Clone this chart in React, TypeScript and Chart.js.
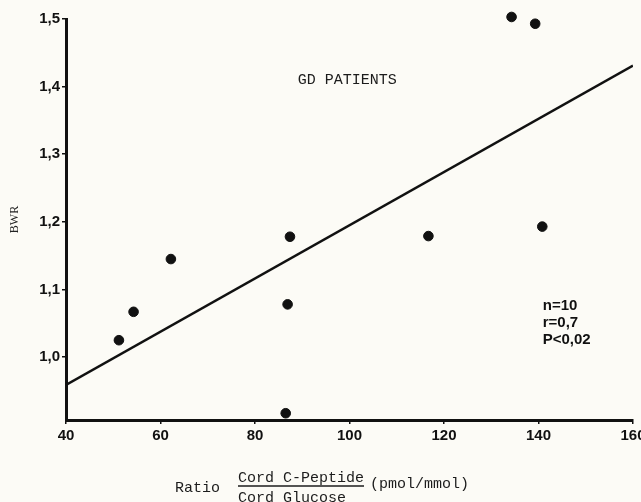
import React, { useEffect, useRef } from 'react';
import { Chart, registerables } from 'chart.js';

Chart.register(...registerables);

// ---- data ----
const xTickValues = [40, 60, 80, 100, 120, 140, 160];
const yTickValues = [1.0, 1.1, 1.2, 1.3, 1.4, 1.5];
const ratioValues = [51.2, 54.3, 62.2, 86.5, 86.9, 87.4, 116.7, 134.3, 139.3, 140.8];
const bwrValues = [1.025, 1.067, 1.145, 0.917, 1.078, 1.178, 1.179, 1.503, 1.493, 1.193];
const fitLineX = [40, 160];
const fitLineY = [0.959, 1.431];
const panelTitle = 'GD PATIENTS';
const statsLines = ['n=10', 'r=0,7', 'P<0,02'];
const yAxisTitle = 'BWR';
const xTitlePrefix = 'Ratio';
const xTitleNumerator = 'Cord C-Peptide';
const xTitleDenominator = 'Cord Glucose';
const xTitleUnit = '(pmol/mmol)';

const BG = '#fcfbf6';
const INK = '#111111';

const annotationPlugin = {
  id: 'annotations',
  beforeDraw(chart: any) {
    const { ctx, width, height } = chart;
    ctx.save();
    ctx.fillStyle = BG;
    ctx.fillRect(0, 0, width, height);
    ctx.restore();
  },
  afterDraw(chart: any) {
    const { ctx, chartArea, scales } = chart;
    const xs = scales.x;
    const ys = scales.y;
    ctx.save();
    // panel title
    ctx.fillStyle = '#1c1c1c';
    ctx.font = '15px "Liberation Mono", monospace';
    ctx.textAlign = 'center';
    ctx.textBaseline = 'middle';
    ctx.fillText(panelTitle, xs.getPixelForValue(99.5), ys.getPixelForValue(1.41));

    // stats
    ctx.fillStyle = INK;
    ctx.font = 'bold 15px "Liberation Sans", Arial, sans-serif';
    ctx.textAlign = 'left';
    const sx = xs.getPixelForValue(140.9);
    const sy = ys.getPixelForValue(1.0756);
    statsLines.forEach((t, i) => ctx.fillText(t, sx, sy + i * 17));

    // x axis title with fraction
    const base = chartArea.bottom;
    ctx.fillStyle = '#1c1c1c';
    ctx.font = '15px "Liberation Mono", monospace';
    ctx.textAlign = 'left';
    ctx.fillText(xTitlePrefix, 175, base + 68);
    ctx.fillText(xTitleNumerator, 238, base + 58);
    const numW = ctx.measureText(xTitleNumerator).width;
    ctx.fillText(xTitleDenominator, 238, base + 78);
    ctx.strokeStyle = '#1c1c1c';
    ctx.lineWidth = 1.3;
    ctx.beginPath();
    ctx.moveTo(238, base + 66);
    ctx.lineTo(238 + numW, base + 66);
    ctx.stroke();
    ctx.fillText(xTitleUnit, 370, base + 64);
    ctx.restore();
  },
};

export default function App() {
  const ref = useRef<HTMLCanvasElement | null>(null);

  useEffect(() => {
    document.body.style.margin = '0';
    document.body.style.background = BG;
    const canvas = ref.current;
    if (!canvas) return;
    const chart = new Chart(canvas, {
      type: 'scatter',
      data: {
        datasets: [
          {
            type: 'scatter',
            data: ratioValues.map((x, i) => ({ x, y: bwrValues[i] })),
            backgroundColor: INK,
            borderColor: INK,
            pointRadius: 4.8,
            pointHoverRadius: 4.8,
            clip: false as any,
          },
          {
            type: 'line',
            data: fitLineX.map((x, i) => ({ x, y: fitLineY[i] })),
            borderColor: INK,
            borderWidth: 2.4,
            pointRadius: 0,
            fill: false,
          } as any,
        ],
      },
      options: {
        animation: false,
        responsive: false,
        events: [],
        layout: { padding: { left: 8, top: 19, right: 8, bottom: 0 } },
        plugins: { legend: { display: false }, tooltip: { enabled: false } },
        scales: {
          x: {
            type: 'linear',
            min: 40,
            max: 160,
            afterBuildTicks: (s: any) => {
              s.ticks = xTickValues.map((v) => ({ value: v }));
            },
            afterFit: (s: any) => {
              s.height = 82;
              s.paddingLeft = 0;
              s.paddingRight = 0;
            },
            ticks: {
              autoSkip: false,
              maxRotation: 0,
              padding: 3,
              color: INK,
              font: { family: '"Liberation Sans", Arial, sans-serif', size: 15, weight: 'bold' },
              callback: (v: any) => String(v),
            },
            grid: { drawOnChartArea: false, drawTicks: true, tickLength: 4, color: INK, lineWidth: 1.5 },
            border: { display: true, color: INK, width: 3 },
          },
          y: {
            type: 'linear',
            min: 0.907,
            max: 1.5,
            afterBuildTicks: (s: any) => {
              s.ticks = yTickValues.map((v) => ({ value: v }));
            },
            afterFit: (s: any) => {
              s.width = 58;
              s.paddingTop = 0;
              s.paddingBottom = 0;
            },
            ticks: {
              padding: 2,
              color: INK,
              font: { family: '"Liberation Sans", Arial, sans-serif', size: 15, weight: 'bold' },
              callback: (v: any) => Number(v).toFixed(1).replace('.', ','),
            },
            title: {
              display: true,
              text: yAxisTitle,
              color: '#222',
              padding: 0,
              font: { family: '"Liberation Serif", serif', size: 12 },
            },
            grid: { drawOnChartArea: false, drawTicks: true, tickLength: 4, color: INK, lineWidth: 1.5 },
            border: { display: true, color: INK, width: 3 },
          },
        },
      } as any,
      plugins: [annotationPlugin],
    });
    return () => chart.destroy();
  }, []);

  return (
    <div style={{ width: 641, height: 502, background: BG }}>
      <canvas ref={ref} width={641} height={502} style={{ display: 'block', width: 641, height: 502 }} />
    </div>
  );
}
